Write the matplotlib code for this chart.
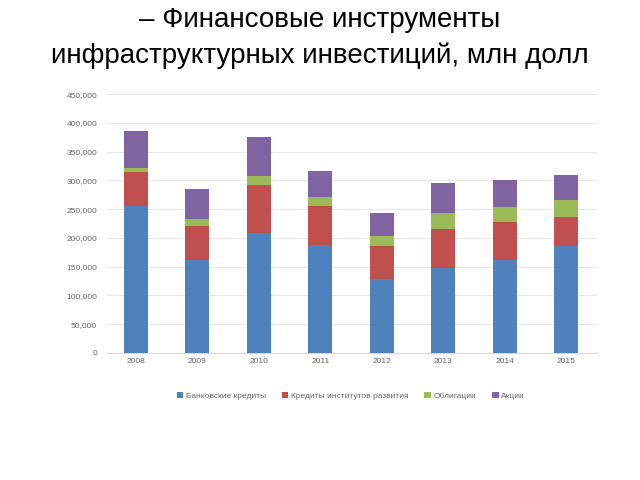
import matplotlib
matplotlib.use('Agg')

import matplotlib.pyplot as plt
import numpy as np

# Data
years = ['2008', '2009', '2010', '2011', '2012', '2013', '2014', '2015']
bank_loans = [255000, 161000, 208000, 188000, 129000, 147000, 162000, 185000]
dev_loans = [59000, 60000, 83000, 68000, 57000, 69000, 65000, 51000]
bonds = [8000, 11000, 16000, 15000, 17000, 28000, 27000, 29000]
equity = [63000, 53000, 69000, 46000, 41000, 51000, 47000, 44000]

series_names = ['Банковские кредиты', 'Кредиты институтов развития',
                'Облигации', 'Акции']
colors = ['#4F81BD', '#C0504D', '#9BBB59', '#8064A2']

plt.rcParams['font.family'] = ['Liberation Sans', 'DejaVu Sans']

fig = plt.figure(figsize=(6.4, 4.8), dpi=100)
ax = fig.add_axes([0.167, 0.265, 0.766, 0.539])

ind = np.arange(len(years))
width = 0.39
bottom = np.zeros(len(years))
handles = []
for vals, col in zip([bank_loans, dev_loans, bonds, equity], colors):
    b = ax.bar(ind, vals, width, bottom=bottom, color=col, zorder=3)
    handles.append(b)
    bottom += np.array(vals)

ax.set_xlim(-0.47, 7.5)
ax.set_ylim(0, 450000)
ax.set_yticks(np.arange(0, 450001, 50000))
ax.set_yticklabels(['{:,}'.format(v) for v in range(0, 450001, 50000)])
ax.set_xticks(ind)
ax.set_xticklabels(years)
ax.tick_params(axis='both', length=0, labelsize=6, colors='#666666')
ax.tick_params(axis='y', pad=7)
ax.tick_params(axis='x', pad=4)
ax.grid(axis='y', color='#e8e8e8', linewidth=0.8, zorder=0)
for s in ['top', 'right', 'left']:
    ax.spines[s].set_visible(False)
ax.spines['bottom'].set_color('#d9d9d9')

fig.text(0.5, 0.958, '– Финансовые инструменты', ha='center', va='center',
         fontsize=20)
fig.text(0.5, 0.884, 'инфраструктурных инвестиций, млн долл', ha='center',
         va='center', fontsize=20)

fig.legend(handles, series_names, loc='center', bbox_to_anchor=(0.548, 0.175),
           ncol=4, frameon=False, fontsize=6, handlelength=0.8,
           handleheight=0.8, handletextpad=0.3, columnspacing=1.9,
           labelcolor='#666666')

plt.savefig('out.png', dpi=100)
